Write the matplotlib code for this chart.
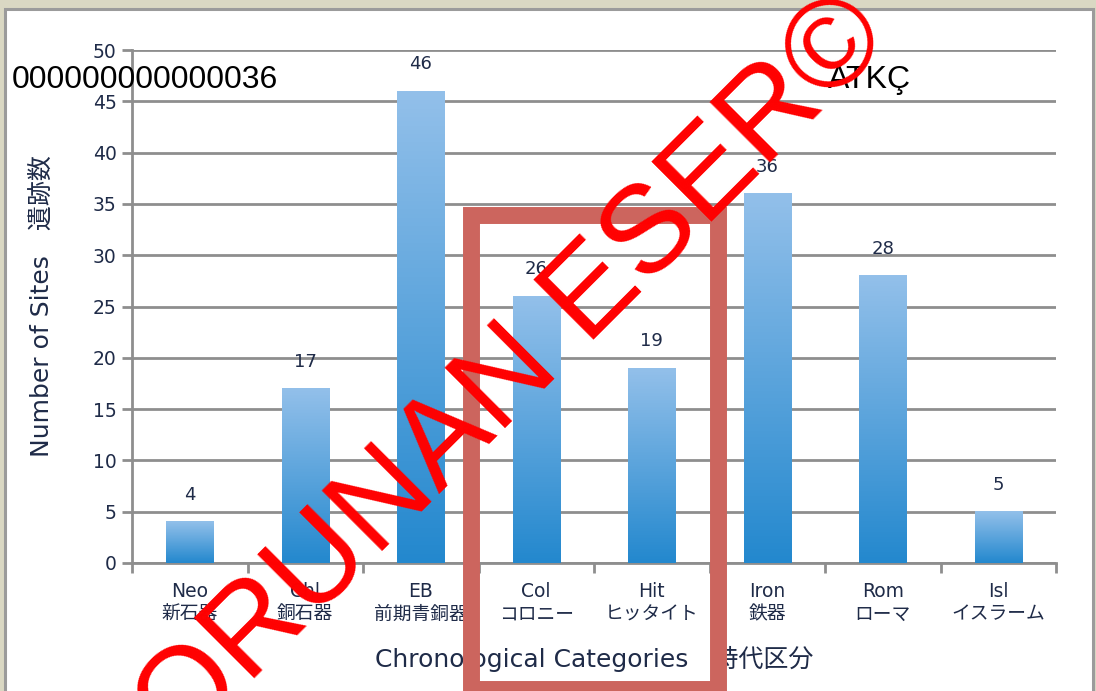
# 遺跡数の棒グラフ（時代区分別）

import numpy as np
import matplotlib
matplotlib.use('Agg')
import matplotlib.pyplot as plt
from matplotlib.colors import LinearSegmentedColormap
from matplotlib.patches import Rectangle

# データ
codes = ['Neo', 'Chl', 'EB', 'Col', 'Hit', 'Iron', 'Rom', 'Isl']
names_jp = ['新石器', '銅石器', '前期青銅器', 'コロニー', 'ヒッタイト', '鉄器', 'ローマ', 'イスラーム']
sites = [4, 17, 46, 26, 19, 36, 28, 5]
y_ticks = [0, 5, 10, 15, 20, 25, 30, 35, 40, 45, 50]

plt.rcParams['font.family'] = ['DejaVu Sans', 'Noto Sans CJK JP']

W, H = 1096, 691
fig = plt.figure(figsize=(W / 100, H / 100), dpi=100)
fig.patch.set_facecolor('#dad8c3')

# 白いパネル
panel = Rectangle((5 / W, -0.01), (1093 - 5) / W, 1 - 9 / H + 0.01, transform=fig.transFigure,
                  facecolor='white', edgecolor='#9b9b9b', linewidth=2.2, zorder=-1)
fig.patches.append(panel)

ax = fig.add_axes([132 / W, 1 - 563 / H, (1056 - 132) / W, (563 - 50) / H])
ax.set_facecolor('none')

text_col = '#1f2b48'
grid_col = '#8e8e8e'

cmap = LinearSegmentedColormap.from_list('bar', ['#2388ce', '#93c0ea'])
grad = np.linspace(0, 1, 256).reshape(-1, 1)
bw = 0.41
x = np.arange(len(codes))
for i, v in enumerate(sites):
    ax.imshow(grad, extent=(i - bw / 2, i + bw / 2, 0, v), origin='lower', aspect='auto',
              cmap=cmap, zorder=3)
    ax.annotate(str(v), (i, v), xytext=(0, 13), textcoords='offset points',
                ha='center', va='bottom', fontsize=13, color=text_col, zorder=4)

ax.set_xlim(-0.5, len(codes) - 0.5)
ax.set_ylim(0, 50)
ax.set_yticks(y_ticks)
ax.yaxis.grid(True, color=grid_col, linewidth=2)
ax.set_axisbelow(True)

ax.set_xticks(x)
ax.set_xticklabels([c + '\n' + j for c, j in zip(codes, names_jp)], fontsize=13.5,
                   color=text_col, linespacing=1.2)
ax.set_xticks(np.arange(-0.5, len(codes)), minor=True)
ax.tick_params(axis='x', which='major', length=0, pad=14)
ax.tick_params(axis='x', which='minor', length=7, width=2, color=grid_col, direction='out')
ax.tick_params(axis='y', length=7, width=2, color=grid_col, labelsize=13.5,
               labelcolor=text_col, pad=4)

for s in ['top', 'right']:
    ax.spines[s].set_visible(False)
for s in ['left', 'bottom']:
    ax.spines[s].set_color(grid_col)
    ax.spines[s].set_linewidth(2)

ax.set_xlabel('Chronological Categories　時代区分', fontsize=18, color=text_col, labelpad=16)
ax.set_ylabel('Number of Sites　遺跡数', fontsize=18, color=text_col, labelpad=28)

# 赤い枠
box = Rectangle((471 / W, 1 - 689 / H), (717.5 - 471) / W, (689 - 215) / H,
                transform=fig.transFigure, fill=False, edgecolor='#cc655e',
                linewidth=12.2, zorder=5)
fig.patches.append(box)

# 上部の文字
fig.text(12 / W, 1 - 88 / H, '000000000000036', fontsize=23, family='Liberation Sans',
         color='black', va='baseline', ha='left', zorder=6)
fig.text(828 / W, 1 - 88 / H, 'ATKÇ', fontsize=23, family='Liberation Sans',
         color='black', va='baseline', ha='left', zorder=6)

# 透かし
fig.text(484 / W, 1 - 404 / H, 'KORUNAN ESER©', fontsize=90, family='Liberation Sans',
         color='#ff0000', rotation=45, rotation_mode='anchor', ha='center', va='center',
         zorder=10)

fig.savefig('out.png', dpi=100, facecolor=fig.get_facecolor())
